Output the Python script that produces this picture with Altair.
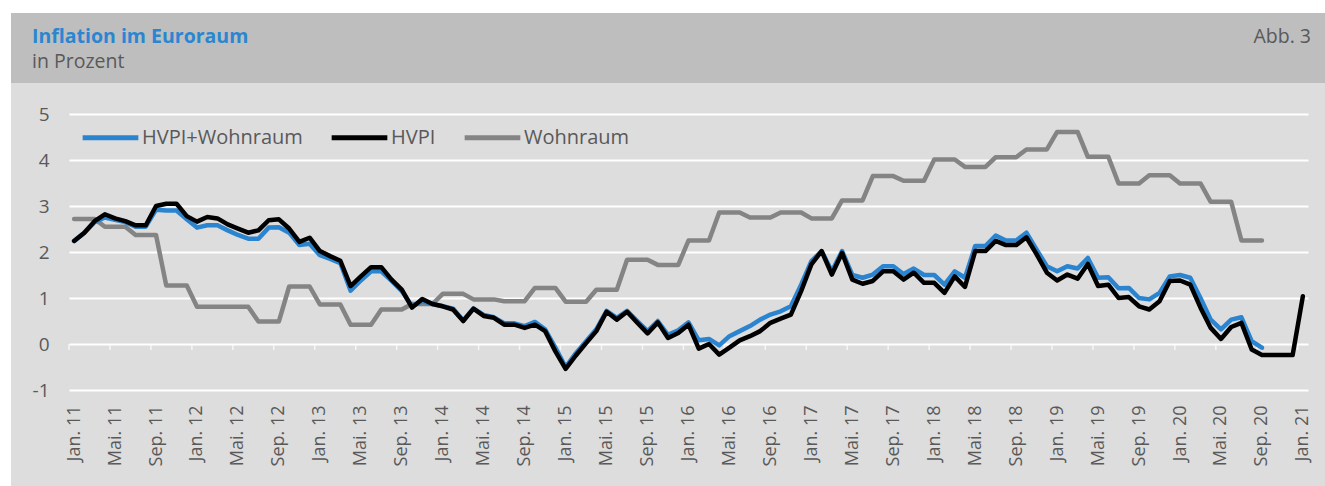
import json
import altair as alt
import numpy as np
import pandas as pd

# ---------------- data (monthly, Jan 2011 = index 0) ----------------
hvpi = [
    2.24, 2.42, 2.67, 2.82, 2.73, 2.67, 2.58, 2.58, 3.00, 3.05, 3.05, 2.78,   # 2011
    2.66, 2.76, 2.73, 2.60, 2.51, 2.42, 2.47, 2.69, 2.71, 2.51, 2.22, 2.31,   # 2012
    2.02, 1.91, 1.81, 1.26, 1.47, 1.67, 1.67, 1.40, 1.18, 0.79, 0.98, 0.87,   # 2013
    0.82, 0.75, 0.50, 0.77, 0.61, 0.57, 0.42, 0.42, 0.35, 0.42, 0.28, -0.16,  # 2014
    -0.54, -0.25, 0.02, 0.28, 0.70, 0.53, 0.70, 0.46, 0.23, 0.47, 0.13, 0.24, # 2015
    0.42, -0.10, 0.00, -0.23, -0.08, 0.08, 0.17, 0.28, 0.46, 0.55, 0.64, 1.15, # 2016
    1.73, 2.02, 1.51, 1.98, 1.40, 1.31, 1.37, 1.58, 1.58, 1.40, 1.55, 1.33,   # 2017
    1.33, 1.11, 1.47, 1.24, 2.02, 2.02, 2.24, 2.15, 2.15, 2.32, 1.95, 1.55,   # 2018
    1.38, 1.51, 1.42, 1.74, 1.26, 1.29, 1.00, 1.02, 0.82, 0.75, 0.93, 1.37,   # 2019
    1.38, 1.29, 0.79, 0.35, 0.11, 0.37, 0.46, -0.12, -0.24, -0.24, -0.24, -0.24, # 2020
    1.04,                                                                     # Jan 2021
]

hvpi_wohnraum = [
    2.24, 2.42, 2.65, 2.75, 2.70, 2.65, 2.55, 2.55, 2.92, 2.90, 2.90, 2.71,   # 2011
    2.53, 2.58, 2.58, 2.47, 2.37, 2.29, 2.29, 2.53, 2.54, 2.42, 2.15, 2.18,   # 2012
    1.93, 1.85, 1.76, 1.16, 1.38, 1.58, 1.58, 1.37, 1.15, 0.82, 0.93, 0.87,   # 2013
    0.82, 0.77, 0.51, 0.77, 0.63, 0.58, 0.45, 0.45, 0.39, 0.48, 0.32, -0.08,  # 2014
    -0.50, -0.20, 0.06, 0.32, 0.72, 0.57, 0.72, 0.50, 0.28, 0.50, 0.20, 0.30, # 2015
    0.47, 0.08, 0.11, -0.03, 0.17, 0.28, 0.39, 0.53, 0.64, 0.71, 0.82, 1.29,  # 2016
    1.80, 2.02, 1.58, 2.02, 1.50, 1.44, 1.51, 1.69, 1.69, 1.52, 1.64, 1.50,   # 2017
    1.50, 1.29, 1.58, 1.44, 2.13, 2.13, 2.36, 2.25, 2.25, 2.42, 2.05, 1.69,   # 2018
    1.58, 1.69, 1.64, 1.87, 1.44, 1.45, 1.21, 1.22, 1.00, 0.97, 1.11, 1.47,   # 2019
    1.50, 1.44, 1.00, 0.53, 0.32, 0.53, 0.58, 0.06, -0.08,                    # 2020 (bis Sep.)
]

# quarterly values (each shown for the three months of its quarter)
wohnraum_quartal = [
    2.72, 2.55, 2.37, 1.27,   # 2011
    0.81, 0.81, 0.49, 1.25,   # 2012
    0.86, 0.42, 0.75, 0.87,   # 2013
    1.09, 0.97, 0.93, 1.22,   # 2014
    0.92, 1.18, 1.83, 1.72,   # 2015
    2.25, 2.86, 2.75, 2.86,   # 2016
    2.73, 3.12, 3.65, 3.55,   # 2017
    4.01, 3.85, 4.06, 4.23,   # 2018
    4.61, 4.07, 3.49, 3.67,   # 2019
    3.49, 3.09, 2.25,         # 2020 (bis Q3)
]

tick_labels = [
    "Jan. 11", "Mai. 11", "Sep. 11", "Jan. 12", "Mai. 12", "Sep. 12",
    "Jan. 13", "Mai. 13", "Sep. 13", "Jan. 14", "Mai. 14", "Sep. 14",
    "Jan. 15", "Mai. 15", "Sep. 15", "Jan. 16", "Mai. 16", "Sep. 16",
    "Jan. 17", "Mai. 17", "Sep. 17", "Jan. 18", "Mai. 18", "Sep. 18",
    "Jan. 19", "Mai. 19", "Sep. 19", "Jan. 20", "Mai. 20", "Sep. 20",
    "Jan. 21",
]
tick_step = 4  # months between labels
y_ticks = [-1, 0, 1, 2, 3, 4, 5]

series_names = ["HVPI+Wohnraum", "HVPI", "Wohnraum"]
series_colors = ["#2a84cf", "#000000", "#848484"]

# ---------------- build tables ----------------
wohnraum = list(np.repeat(wohnraum_quartal, 3))
rows = []
for name, vals in zip(series_names, [hvpi_wohnraum, hvpi, wohnraum]):
    for i, v in enumerate(vals):
        rows.append({"i": i, "Reihe": name, "Wert": float(v)})
df = pd.DataFrame(rows)

label_idx = [k * tick_step for k in range(len(tick_labels))]
ticks_df = pd.DataFrame({"i": [v - 0.5 for v in label_idx], "Wert": [0] * len(label_idx)})
one = pd.DataFrame({"a": [0]})

n_months = len(hvpi)
W, H = 1239, 276
TXT = "#595959"
FONT = "Open Sans"

x_scale = alt.Scale(domain=[-0.5, n_months - 0.5], nice=False, zero=False)
y_scale = alt.Scale(domain=[-1, 5], nice=False, zero=False)

label_expr = json.dumps(tick_labels) + "[round(datum.value / %d)]" % tick_step

x_axis = alt.Axis(values=label_idx, labelExpr=label_expr, labelAngle=-90,
                  grid=False, ticks=False, domain=False, labelPadding=15,
                  labelFontSize=18, labelColor=TXT, labelFont=FONT, title=None)
y_axis = alt.Axis(values=y_ticks, labelExpr="'' + datum.value", grid=True,
                  gridColor="white", gridWidth=2, ticks=False, domain=False,
                  labelPadding=20, labelFontSize=19, labelColor=TXT,
                  labelFont=FONT, title=None)

X = alt.X("i:Q", scale=x_scale, axis=x_axis)
Y = alt.Y("Wert:Q", scale=y_scale, axis=y_axis)

color = alt.Color("Reihe:N",
                  scale=alt.Scale(domain=series_names, range=series_colors),
                  sort=series_names,
                  legend=alt.Legend(orient="none", legendX=11, legendY=-7,
                                    direction="horizontal", columns=3,
                                    title=None, symbolType="stroke",
                                    symbolSize=3100, symbolStrokeWidth=5,
                                    labelFontSize=20, labelColor=TXT,
                                    labelFont=FONT, labelOffset=1,
                                    labelLimit=400, columnPadding=18))

def line_layer(name):
    return alt.Chart(df).transform_filter(
        alt.datum.Reihe == name
    ).mark_line(strokeWidth=4.5, strokeJoin="round", strokeCap="round").encode(
        x=X, y=Y, color=color,
    )

# decorative frame pieces (outside the plot area)
white_top = alt.Chart(one).mark_rect(color="white").encode(
    x=alt.value(-69), x2=alt.value(W + 17), y=alt.value(-114), y2=alt.value(-101))
white_left = alt.Chart(one).mark_rect(color="white").encode(
    x=alt.value(-69), x2=alt.value(-58), y=alt.value(-114), y2=alt.value(H + 96))
header = alt.Chart(one).mark_rect(color="#bebebe").encode(
    x=alt.value(-58), x2=alt.value(W + 17), y=alt.value(-101), y2=alt.value(-31))

title = alt.Chart(one).mark_text(align="left", baseline="alphabetic", font=FONT,
                                 fontSize=19.5, fontWeight="bold", color="#2a86d1").encode(
    x=alt.value(-37), y=alt.value(-71), text=alt.value("Inflation im Euroraum"))
subtitle = alt.Chart(one).mark_text(align="left", baseline="alphabetic", font=FONT,
                                    fontSize=19.5, color=TXT).encode(
    x=alt.value(-37), y=alt.value(-46), text=alt.value("in Prozent"))
abb = alt.Chart(one).mark_text(align="right", baseline="alphabetic", font=FONT,
                               fontSize=19.5, color=TXT).encode(
    x=alt.value(W + 3), y=alt.value(-71), text=alt.value("Abb. 3"))

ticks = alt.Chart(ticks_df).mark_tick(orient="vertical", size=6, thickness=1.5,
                                      color="white", yOffset=3).encode(x=X, y=Y)

chart = alt.layer(
    white_top, white_left, header, title, subtitle, abb,
    ticks,
    line_layer("Wohnraum"),
    line_layer("HVPI+Wohnraum"),
    line_layer("HVPI"),
).properties(
    width=W, height=H,
    padding={"left": 69, "top": 114, "right": 17, "bottom": 96},
    autosize=alt.AutoSizeParams(type="none"),
    background="#dddddd",
).configure_view(strokeWidth=0)

chart.save("out.html", embed_options={"renderer": "svg", "actions": False})
